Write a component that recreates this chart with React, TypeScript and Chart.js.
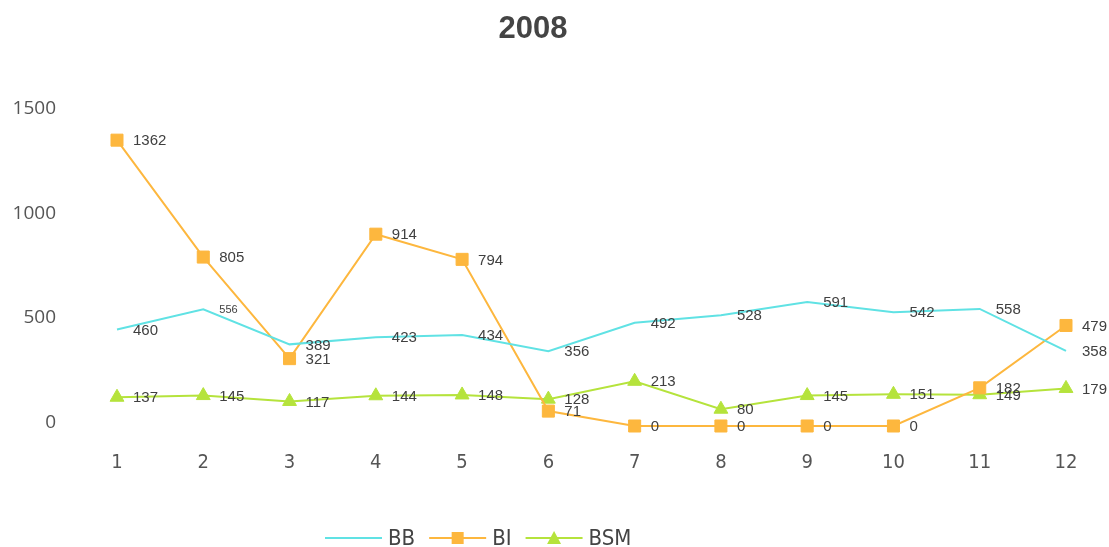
import React, { useEffect, useRef } from "react";
import { Chart, registerables } from "chart.js";

Chart.register(...registerables);

const chartTitle = "2008";
const categories = ["1", "2", "3", "4", "5", "6", "7", "8", "9", "10", "11", "12"];
const seriesNames = ["BB", "BI", "BSM"];
const bbValues = [460, 556, 389, 423, 434, 356, 492, 528, 591, 542, 558, 358];
const biValues = [1362, 805, 321, 914, 794, 71, 0, 0, 0, 0, 182, 479];
const bsmValues = [137, 145, 117, 144, 148, 128, 213, 80, 145, 151, 149, 179];
const yTickValues = [0, 500, 1000, 1500];

const COLORS = ["#60e2e4", "#fdb73e", "#b5e33c"];
const CONDENSED = '"Liberation Sans Narrow", "DejaVu Sans Condensed", "Roboto Condensed", "Noto Sans", sans-serif';
const LABEL_FONT = '"Liberation Sans", Arial, sans-serif';

const valueLabelPlugin = {
  id: "valueLabels",
  afterDatasetsDraw(chart: any) {
    const ctx = chart.ctx;
    ctx.save();
    ctx.fillStyle = "#404040";
    ctx.textAlign = "left";
    ctx.textBaseline = "middle";
    chart.data.datasets.forEach((ds: any, di: number) => {
      const meta = chart.getDatasetMeta(di);
      meta.data.forEach((pt: any, i: number) => {
        const small = di === 0 && i === 1;
        ctx.font = `${small ? 11 : 15}px ${LABEL_FONT}`;
        ctx.fillText(String(ds.data[i]), pt.x + 16, pt.y + 1);
      });
    });
    ctx.restore();
  },
};

const legendPlugin = {
  id: "customLegend",
  afterDraw(chart: any) {
    const ctx = chart.ctx;
    const y = 538;
    let x = 325;
    const lineLen = 57;
    ctx.save();
    ctx.font = `22px ${CONDENSED}`;
    ctx.textBaseline = "middle";
    ctx.textAlign = "left";
    chart.data.datasets.forEach((ds: any) => {
      ctx.strokeStyle = ds.borderColor;
      ctx.lineWidth = 2;
      ctx.beginPath();
      ctx.moveTo(x, y);
      ctx.lineTo(x + lineLen, y);
      ctx.stroke();
      const cx = x + lineLen / 2;
      ctx.fillStyle = ds.backgroundColor;
      if (ds.pointStyle === "rect" && ds.pointRadius > 0) {
        ctx.fillRect(cx - 6, y - 6, 12, 12);
      } else if (ds.pointStyle === "triangle" && ds.pointRadius > 0) {
        ctx.beginPath();
        ctx.moveTo(cx, y - 7);
        ctx.lineTo(cx + 7, y + 6);
        ctx.lineTo(cx - 7, y + 6);
        ctx.closePath();
        ctx.fill();
      }
      ctx.fillStyle = "#444";
      const tx = x + lineLen + 6;
      ctx.fillText(ds.label, tx, y + 1);
      x = tx + ctx.measureText(ds.label).width + 14;
    });
    ctx.restore();
  },
};

export default function App() {
  const ref = useRef<HTMLCanvasElement | null>(null);

  useEffect(() => {
    document.body.style.margin = "0";
    const canvas = ref.current;
    if (!canvas) return;
    const seriesValues = [bbValues, biValues, bsmValues];
    const styles = ["circle", "rect", "triangle"];
    const radii = [0, 8.5, 8];
    const chart = new Chart(canvas, {
      type: "line",
      data: {
        labels: categories,
        datasets: seriesNames.map((name, i) => ({
          label: name,
          data: seriesValues[i],
          borderColor: COLORS[i],
          backgroundColor: COLORS[i],
          pointBackgroundColor: COLORS[i],
          pointBorderColor: COLORS[i],
          pointBorderWidth: 1,
          borderWidth: 2,
          pointStyle: styles[i],
          pointRadius: radii[i],
          pointHoverRadius: radii[i],
          tension: 0,
          clip: false,
          fill: false,
        })),
      },
      options: {
        animation: false,
        responsive: false,
        maintainAspectRatio: false,
        layout: { padding: { left: 0, right: 43, top: 0, bottom: 47 } },
        plugins: {
          legend: { display: false },
          tooltip: { enabled: false },
          title: {
            display: true,
            text: chartTitle,
            color: "#444",
            font: { size: 31, weight: "bold", family: LABEL_FONT },
            padding: { top: 11, bottom: 63 },
          },
        },
        scales: {
          x: {
            offset: false,
            grid: { display: false, drawTicks: false },
            border: { display: false },
            ticks: {
              color: "#555",
              font: { size: 20, family: CONDENSED },
              padding: 25,
              maxRotation: 0,
              autoSkip: false,
            },
          },
          y: {
            min: 0,
            max: 1500,
            grid: { display: false, drawTicks: false },
            border: { display: false },
            afterBuildTicks: (s: any) => {
              s.ticks = yTickValues.map((v) => ({ value: v }));
            },
            afterFit: (s: any) => {
              s.width = 117;
            },
            ticks: {
              color: "#555",
              font: { size: 19, family: '"Open Sans", "Noto Sans", sans-serif' },
              padding: 61,
              labelOffset: -3,
              callback: (v: any) => String(v),
            },
          },
        },
      },
      plugins: [valueLabelPlugin, legendPlugin],
    } as any);
    return () => chart.destroy();
  }, []);

  return (
    <div style={{ width: 1109, height: 547 }}>
      <canvas ref={ref} width={1109} height={547} style={{ display: "block" }} />
    </div>
  );
}
